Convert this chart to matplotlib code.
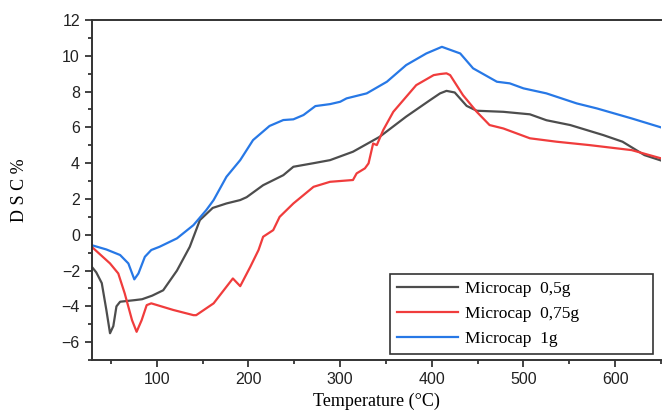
import numpy as np
import matplotlib
matplotlib.use('Agg')
import matplotlib.pyplot as plt
from matplotlib.ticker import MultipleLocator

# DSC traces of the microcapsule samples (temperature in degC, DSC in %)
t_05 = [29, 34, 40, 45, 49, 52.6, 56, 60, 76, 84, 95, 107, 122, 136, 147,
        161, 176, 191, 198, 216, 238, 249, 271, 289, 314, 343, 372, 398, 409,
        416, 425, 438, 449, 478, 507, 525, 551, 587, 608, 632, 650]
dsc_05 = [-1.78, -2.1, -2.7, -4.2, -5.5, -5.1, -4.0, -3.74, -3.65, -3.6,
          -3.4, -3.1, -2.0, -0.67, 0.82, 1.5, 1.75, 1.94, 2.1, 2.77, 3.33,
          3.8, 4.0, 4.17, 4.64, 5.47, 6.6, 7.52, 7.9, 8.04, 7.95, 7.2, 6.93,
          6.87, 6.73, 6.4, 6.13, 5.57, 5.2, 4.45, 4.15]

t_075 = [29, 49, 58, 65, 73, 78, 83.5, 89, 94, 118, 140, 143, 162, 183, 191,
         202, 211, 216, 227, 234, 249, 271, 289, 314, 318, 327, 331, 336, 340,
         347, 358, 383, 402, 409, 416, 420, 434, 449, 463, 478, 507, 536, 572,
         618, 650]
dsc_075 = [-0.67, -1.6, -2.16, -3.27, -4.77, -5.42, -4.77, -3.93, -3.83,
           -4.2, -4.49, -4.49, -3.83, -2.44, -2.87, -1.79, -0.85, -0.11, 0.26,
           1.0, 1.75, 2.68, 2.96, 3.06, 3.43, 3.71, 3.99, 5.1, 5.01, 5.85,
           6.87, 8.36, 8.92, 8.98, 9.02, 8.92, 7.8, 6.87, 6.13, 5.94, 5.39,
           5.2, 5.01, 4.73, 4.27]

t_1 = [29, 45, 60, 69, 75.5, 80, 87, 94, 103, 122, 140, 154, 162, 176, 191,
       205, 223, 238, 249, 260, 273, 289, 300, 307, 329, 351, 372, 394, 411,
       431, 445, 471, 485, 500, 525, 558, 580, 618, 650]
dsc_1 = [-0.58, -0.82, -1.13, -1.6, -2.49, -2.16, -1.23, -0.85, -0.67, -0.2,
         0.54, 1.38, 1.94, 3.24, 4.17, 5.29, 6.08, 6.41, 6.45, 6.69, 7.19,
         7.3, 7.43, 7.62, 7.9, 8.55, 9.48, 10.13, 10.5, 10.13, 9.3, 8.55,
         8.46, 8.18, 7.9, 7.34, 7.06, 6.5, 6.0]

labels = ['Microcap  0,5g', 'Microcap  0,75g', 'Microcap  1g']
colors = ['#4d4d4d', '#f03c3c', '#2778e6']

fig = plt.figure(figsize=(6.62, 4.12), dpi=100)
ax = fig.add_axes([0.1385, 0.126, 0.86, 0.8255])

for t, d, lab, c in zip([t_05, t_075, t_1], [dsc_05, dsc_075, dsc_1],
                        labels, colors):
    ax.plot(t, d, color=c, lw=1.6, label=lab)

ax.set_xlim(29, 650)
ax.set_ylim(-7, 12)
ax.xaxis.set_major_locator(MultipleLocator(100))
ax.xaxis.set_minor_locator(MultipleLocator(50))
ax.yaxis.set_major_locator(MultipleLocator(2))
ax.yaxis.set_minor_locator(MultipleLocator(1))
ax.tick_params(which='both', direction='out', width=1.2, labelsize=11.5,
               colors='#222222')
ax.tick_params(which='major', length=5)
ax.tick_params(which='minor', length=3)
for lab in ax.get_xticklabels() + ax.get_yticklabels():
    lab.set_family('Liberation Sans')
ax.spines['right'].set_visible(False)
for s in ['left', 'bottom', 'top']:
    ax.spines[s].set_linewidth(1.4)
    ax.spines[s].set_color('#333333')

ax.set_xlabel('Temperature (°C)', family='Liberation Serif', fontsize=13,
              labelpad=4)
ax.set_ylabel('D S C %', family='Liberation Serif', fontsize=13,
              labelpad=24)

leg = ax.legend(loc='lower left', bbox_to_anchor=(0.524, 0.018, 0.462, 0.232),
                mode='expand', prop={'family': 'Liberation Serif', 'size': 12.5},
                handlelength=3.5, handletextpad=0.4, labelspacing=0.5,
                fancybox=False, framealpha=1, borderaxespad=0)
leg.get_frame().set_edgecolor('#333333')
leg.get_frame().set_linewidth(1.2)

fig.savefig('out.png', dpi=100)
print('done')
